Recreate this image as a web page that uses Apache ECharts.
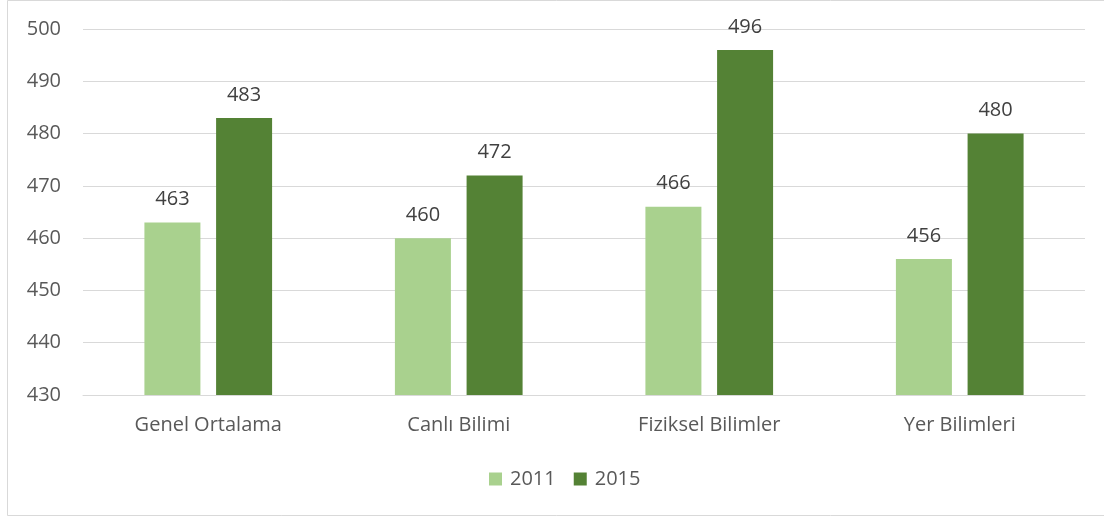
<!DOCTYPE html>
<html>
<head>
<meta charset="utf-8">
<script src="https://cdn.jsdelivr.net/npm/echarts@6/dist/echarts.min.js"></script>
<style>
  html, body { margin: 0; padding: 0; background: #fff; }
  #chart { width: 1104px; height: 518px; }
</style>
</head>
<body>
<div id="chart"></div>
<script>
// Ortalama puanlar, alanlara göre
const categories = ['Genel Ortalama', 'Canlı Bilimi', 'Fiziksel Bilimler', 'Yer Bilimleri'];
const scores2011 = [463, 460, 466, 456];
const scores2015 = [483, 472, 496, 480];
const seriesNames = ['2011', '2015'];

const FONT = '"Open Sans", "Noto Sans", sans-serif';
const TEXT = '#595959';

const chart = echarts.init(document.getElementById('chart'), null, { renderer: 'canvas' });

const labelStyle = {
  show: true,
  position: 'top',
  distance: 13,
  color: '#404040',
  fontSize: 20,
  fontFamily: FONT
};

chart.setOption({
  animation: false,
  backgroundColor: '#ffffff',
  textStyle: { fontFamily: FONT },
  graphic: [{
    type: 'rect',
    shape: { x: 7.5, y: 0.5, width: 1110, height: 515 },
    style: { fill: 'none', stroke: '#d9d9d9', lineWidth: 1 },
    silent: true
  }],
  grid: { left: 83, right: 19, top: 29, bottom: 123, containLabel: false },
  legend: {
    data: seriesNames,
    bottom: 24,
    left: 484,
    itemWidth: 13,
    itemHeight: 13,
    itemGap: 18,
    icon: 'rect',
    textStyle: { color: TEXT, fontSize: 20, fontFamily: FONT, padding: [0, 0, 0, 3] }
  },
  xAxis: {
    type: 'category',
    data: categories,
    axisLine: { show: true, lineStyle: { color: '#d9d9d9', width: 1 } },
    axisTick: { show: false },
    axisLabel: { color: TEXT, fontSize: 20, fontFamily: FONT, margin: 20 }
  },
  yAxis: {
    type: 'value',
    min: 430,
    max: 500,
    interval: 10,
    axisLine: { show: false },
    axisTick: { show: false },
    splitLine: { lineStyle: { color: '#d9d9d9', width: 1 } },
    axisLabel: { color: TEXT, fontSize: 20, fontFamily: FONT, margin: 22 }
  },
  series: [
    {
      name: seriesNames[0],
      type: 'bar',
      data: scores2011,
      barWidth: 56,
      barGap: '28%',
      itemStyle: { color: '#A9D18E' },
      label: labelStyle
    },
    {
      name: seriesNames[1],
      type: 'bar',
      data: scores2015,
      barWidth: 56,
      itemStyle: { color: '#548235' },
      label: labelStyle
    }
  ]
});
</script>
</body>
</html>
